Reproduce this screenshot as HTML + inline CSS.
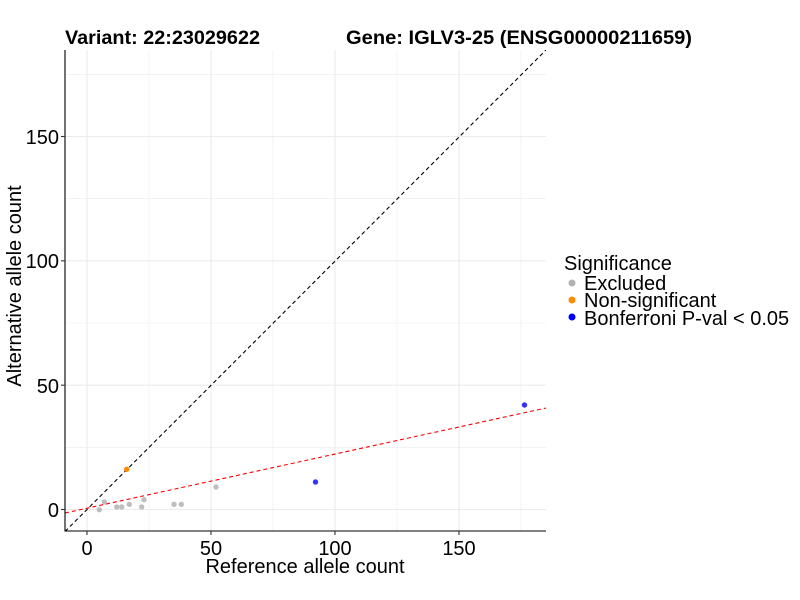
<!DOCTYPE html>
<html><head><style>body{margin:0;background:#fff}svg{display:block}text{font-family:"Liberation Sans",Arial,sans-serif}</style></head><body>
<svg width="800" height="600" viewBox="0 0 800 600">
<defs><clipPath id="c"><rect x="65" y="50" width="481" height="481"/></clipPath></defs>
<g stroke="#ebebeb" stroke-width="0.6">
<line x1="149" y1="50" x2="149" y2="531"/><line x1="273" y1="50" x2="273" y2="531"/><line x1="397" y1="50" x2="397" y2="531"/><line x1="521" y1="50" x2="521" y2="531"/>
<line x1="65" y1="447.3" x2="546" y2="447.3"/><line x1="65" y1="323" x2="546" y2="323"/><line x1="65" y1="198.6" x2="546" y2="198.6"/><line x1="65" y1="74.3" x2="546" y2="74.3"/>
</g>
<g stroke="#ebebeb" stroke-width="1.1">
<line x1="87" y1="50" x2="87" y2="531"/><line x1="211" y1="50" x2="211" y2="531"/><line x1="335" y1="50" x2="335" y2="531"/><line x1="459" y1="50" x2="459" y2="531"/>
<line x1="65" y1="509.5" x2="546" y2="509.5"/><line x1="65" y1="385.2" x2="546" y2="385.2"/><line x1="65" y1="260.8" x2="546" y2="260.8"/><line x1="65" y1="136.5" x2="546" y2="136.5"/>
</g>
<g clip-path="url(#c)">
<line x1="65" y1="531.5" x2="546" y2="50" stroke="#000" stroke-width="1.1" stroke-dasharray="4,3"/>
<line x1="65" y1="513" x2="546" y2="408" stroke="#f00" stroke-width="1.1" stroke-dasharray="4,3"/>
<g fill="#bebebe">
<circle cx="99.3" cy="509.7" r="2.7"/><circle cx="104.3" cy="502" r="2.7"/><circle cx="116.7" cy="507" r="2.7"/><circle cx="121.7" cy="507" r="2.7"/><circle cx="129.3" cy="504.3" r="2.7"/><circle cx="141.7" cy="507" r="2.7"/><circle cx="144" cy="499.7" r="2.7"/><circle cx="174" cy="504.3" r="2.7"/><circle cx="181.3" cy="504.3" r="2.7"/><circle cx="216" cy="487" r="2.7"/>
</g>
<circle cx="126.7" cy="469.3" r="2.7" fill="#ff8c00"/>
<circle cx="315.5" cy="482" r="2.7" fill="#3333ff"/>
<circle cx="524.5" cy="405" r="2.7" fill="#3333ff"/>
</g>
<line x1="65" y1="50" x2="65" y2="531.5" stroke="#000" stroke-width="1.1"/>
<line x1="64.5" y1="531" x2="546" y2="531" stroke="#000" stroke-width="1.1"/>
<g stroke="#333" stroke-width="1.1">
<line x1="61" y1="509.5" x2="65" y2="509.5"/><line x1="61" y1="385.2" x2="65" y2="385.2"/><line x1="61" y1="260.8" x2="65" y2="260.8"/><line x1="61" y1="136.5" x2="65" y2="136.5"/>
<line x1="87" y1="531" x2="87" y2="535"/><line x1="211" y1="531" x2="211" y2="535"/><line x1="335" y1="531" x2="335" y2="535"/><line x1="459" y1="531" x2="459" y2="535"/>
</g>
<g font-size="20" fill="#000" text-anchor="end">
<text x="59" y="517">0</text><text x="59" y="393">50</text><text x="59" y="268">100</text><text x="59" y="144">150</text>
</g>
<g font-size="20" fill="#000" text-anchor="middle">
<text x="87" y="555">0</text><text x="211" y="555">50</text><text x="335" y="555">100</text><text x="459" y="555">150</text>
<text x="305" y="573">Reference allele count</text>
<text transform="translate(21,286) rotate(-90)">Alternative allele count</text>
</g>
<text x="65" y="44" font-size="19" font-weight="bold" textLength="195" lengthAdjust="spacingAndGlyphs">Variant: 22:23029622</text>
<text x="346" y="44" font-size="19" font-weight="bold" textLength="346" lengthAdjust="spacingAndGlyphs">Gene: IGLV3-25 (ENSG00000211659)</text>
<text x="564" y="270" font-size="20">Significance</text>
<circle cx="572" cy="283" r="3.5" fill="#b3b3b3"/><text x="584" y="290" font-size="20">Excluded</text>
<circle cx="572" cy="300" r="3.5" fill="#ff8c00"/><text x="584" y="307" font-size="20">Non-significant</text>
<circle cx="572" cy="317" r="3.5" fill="#0000ff"/><text x="584" y="325" font-size="20">Bonferroni P-val &lt; 0.05</text>
</svg>
</body></html>
